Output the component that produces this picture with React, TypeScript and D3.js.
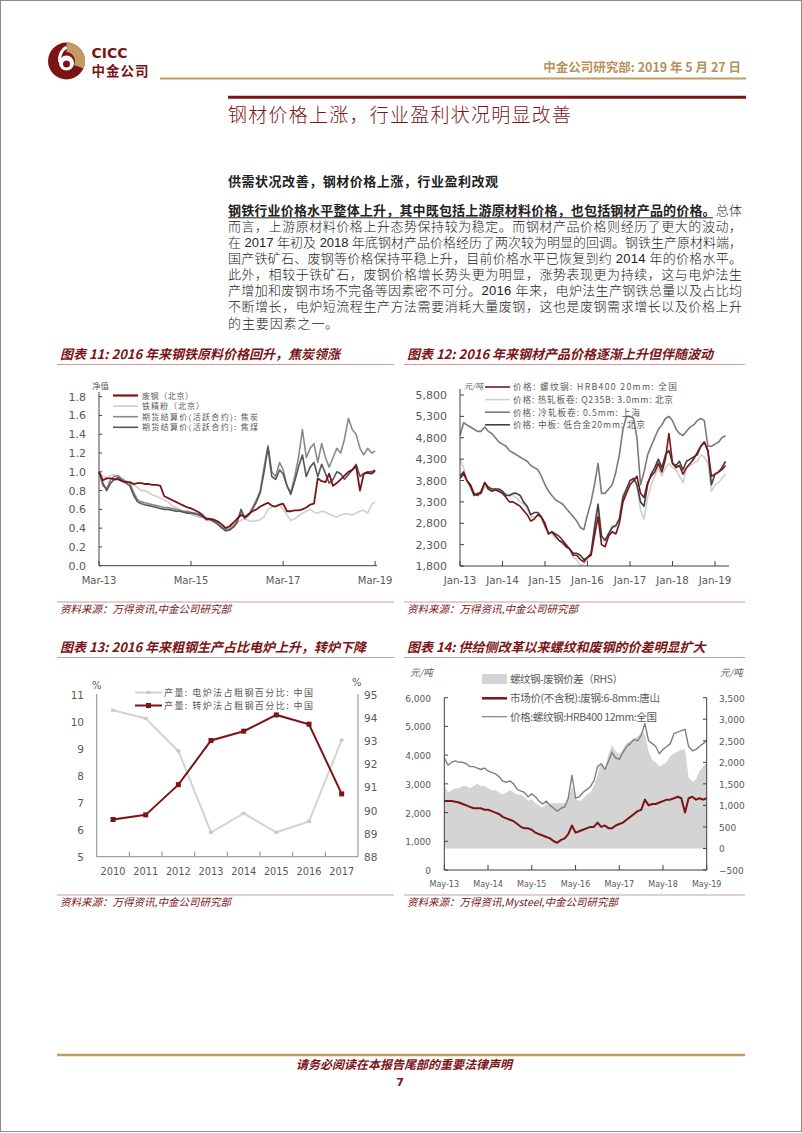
import React from 'react';
import * as d3 from 'd3';

const RED = '#7b1416';
const GOLD = '#b8905a';
const RULE = '#c4a0a0';
const LABEL = '#595959';
const NUM = '"DejaVu Sans", Verdana, sans-serif';
const CJK = '"Noto Sans CJK SC", "Noto Sans", sans-serif';
const BODY = '"Liberation Sans", "Noto Sans CJK SC", sans-serif';

// 图表 11: 2013-03 起的月度净值
const c11Scrap = [1.0, 0.91, 0.93, 0.93, 0.92, 0.92, 0.9, 0.89, 0.89, 0.87, 0.88, 0.88, 0.87, 0.87, 0.86, 0.86, 0.85, 0.74, 0.72, 0.7, 0.68, 0.66, 0.64, 0.62, 0.61, 0.59, 0.57, 0.54, 0.49, 0.5, 0.49, 0.47, 0.44, 0.4, 0.42, 0.46, 0.5, 0.54, 0.52, 0.55, 0.58, 0.6, 0.63, 0.65, 0.67, 0.64, 0.63, 0.65, 0.66, 0.58, 0.58, 0.59, 0.59, 0.6, 0.62, 0.65, 0.66, 0.93, 0.9, 0.89, 0.98, 0.85, 0.88, 0.92, 0.96, 1.0, 1.02, 1.06, 0.8, 0.98, 0.99, 0.98, 1.01];
const c11Ore = [1.0, 0.95, 0.94, 0.96, 0.97, 0.95, 0.93, 0.9, 0.88, 0.86, 0.83, 0.8, 0.8, 0.78, 0.75, 0.74, 0.72, 0.7, 0.68, 0.64, 0.62, 0.6, 0.58, 0.56, 0.55, 0.53, 0.52, 0.51, 0.5, 0.48, 0.46, 0.44, 0.42, 0.4, 0.41, 0.43, 0.46, 0.48, 0.5, 0.48, 0.47, 0.48, 0.49, 0.52, 0.6, 0.62, 0.63, 0.65, 0.6, 0.54, 0.48, 0.5, 0.53, 0.56, 0.58, 0.6, 0.57, 0.56, 0.58, 0.57, 0.55, 0.53, 0.52, 0.54, 0.55, 0.55, 0.54, 0.56, 0.58, 0.59, 0.56, 0.65, 0.68];
const c11Coke = [1.0, 0.85, 0.82, 0.92, 0.95, 0.96, 0.92, 0.9, 0.88, 0.78, 0.7, 0.68, 0.67, 0.66, 0.65, 0.64, 0.63, 0.62, 0.62, 0.61, 0.6, 0.59, 0.58, 0.58, 0.57, 0.56, 0.55, 0.53, 0.51, 0.5, 0.48, 0.45, 0.41, 0.38, 0.39, 0.42, 0.47, 0.58, 0.5, 0.54, 0.62, 0.7, 0.8, 1.05, 1.28, 1.0, 0.95, 1.1, 1.02, 0.85, 0.78, 0.95, 1.15, 1.45, 1.15, 1.25, 1.3, 1.1, 1.3, 1.15, 1.05, 1.15, 1.25, 1.2, 1.35, 1.57, 1.45, 1.4, 1.25, 1.18, 1.25, 1.2, 1.22];
const c11Coal = [1.0, 0.88, 0.8, 0.88, 0.92, 0.94, 0.9, 0.88, 0.85, 0.75, 0.68, 0.66, 0.65, 0.64, 0.63, 0.62, 0.61, 0.6, 0.6, 0.59, 0.58, 0.58, 0.57, 0.56, 0.56, 0.55, 0.54, 0.52, 0.5, 0.49, 0.47, 0.44, 0.4, 0.37, 0.38, 0.41, 0.46, 0.6, 0.51, 0.54, 0.6, 0.68, 0.78, 1.0, 1.26, 0.95, 0.92, 1.02, 0.98, 0.85, 0.76, 0.9, 1.05, 1.18, 0.95, 1.05, 1.1, 0.95, 1.08, 0.98, 0.88, 0.92, 1.0, 0.98, 0.92, 0.97, 1.02, 1.08, 0.95, 0.98, 1.0, 1.0, 1.02];
const c11Names = ['废钢（北京）', '铁精粉（北京）', '期货结算价(活跃合约): 焦炭', '期货结算价(活跃合约): 焦煤'];
const c11XTicks = ['Mar-13', 'Mar-15', 'Mar-17', 'Mar-19'];

// 图表 12: 2013-01 起的月度价格（元/吨）
const c12Rebar = [3900, 4000, 3800, 3700, 3500, 3450, 3550, 3750, 3600, 3550, 3580, 3550, 3500, 3400, 3300, 3300, 3250, 3200, 3100, 3000, 2850, 2900, 3000, 2950, 2800, 2550, 2600, 2500, 2400, 2350, 2250, 2200, 2050, 2050, 1950, 1900, 2000, 2050, 2500, 2950, 2300, 2250, 2500, 2600, 2550, 2800, 3300, 3500, 3700, 3800, 3900, 3500, 3400, 3750, 3900, 4000, 4200, 4000, 4300, 4900, 4200, 4100, 4150, 3950, 4100, 4200, 4300, 4450, 4600, 4700, 4500, 3900, 3950, 4000, 4050, 4150];
const c12Hot = [4300, 4100, 3800, 3700, 3500, 3450, 3500, 3650, 3600, 3550, 3600, 3550, 3500, 3500, 3450, 3450, 3400, 3300, 3250, 3150, 2950, 2950, 3000, 2900, 2700, 2600, 2550, 2450, 2400, 2300, 2250, 2200, 2000, 1950, 1800, 1850, 1950, 2100, 2600, 3100, 2400, 2400, 2600, 2750, 2700, 2900, 3500, 3600, 3800, 3850, 3700, 3100, 2900, 3400, 3700, 3900, 4100, 3900, 4100, 4200, 4100, 4050, 3900, 3750, 4100, 4150, 4200, 4250, 4400, 4350, 4200, 3550, 3700, 3750, 3850, 3950];
const c12Cold = [4850, 5150, 5100, 5050, 5000, 4950, 4950, 5050, 4950, 4900, 4800, 4700, 4650, 4600, 4500, 4450, 4400, 4350, 4300, 4250, 4150, 4100, 4050, 3900, 3700, 3550, 3450, 3350, 3300, 3250, 3150, 3050, 2950, 2850, 2700, 2650, 3000, 3300, 3700, 4200, 3500, 3500, 3600, 3700, 4000, 4400, 5000, 5300, 5300, 5250, 4800, 3700, 4000, 4400, 4600, 4800, 5000, 5100, 5250, 5300, 5200, 5000, 4900, 4850, 4950, 5050, 5100, 5200, 5250, 5200, 4600, 4600, 4650, 4700, 4800, 4850];
const c12Plate = [3850, 3950, 3800, 3650, 3450, 3500, 3500, 3750, 3650, 3600, 3600, 3600, 3550, 3450, 3450, 3500, 3500, 3450, 3300, 3200, 3000, 3050, 3050, 2950, 2750, 2550, 2600, 2550, 2500, 2400, 2300, 2200, 2100, 2100, 2050, 1950, 2000, 2100, 2700, 3250, 2500, 2400, 2550, 2700, 2750, 2900, 3400, 3600, 3800, 3850, 3700, 3300, 3200, 3700, 3950, 4100, 4300, 4100, 4400, 4500, 4200, 4150, 4250, 4050, 4250, 4300, 4350, 4400, 4600, 4700, 4500, 3700, 3950, 4000, 4100, 4250];
const c12Names = ['价格: 螺纹钢: HRB400 20mm: 全国', '价格: 热轧板卷: Q235B: 3.0mm: 北京', '价格: 冷轧板卷: 0.5mm: 上海', '价格: 中板: 低合金20mm: 北京'];
const c12XTicks = ['Jan-13', 'Jan-14', 'Jan-15', 'Jan-16', 'Jan-17', 'Jan-18', 'Jan-19'];

// 图表 13: 年度占比（%）
const c13Years = ['2010', '2011', '2012', '2013', '2014', '2015', '2016', '2017'];
const c13Eaf = [10.4, 10.1, 8.9, 5.9, 6.6, 5.9, 6.3, 9.3];
const c13Bof = [89.6, 89.8, 91.1, 93.0, 93.4, 94.1, 93.7, 90.7];
const c13Names = ['产量: 电炉法占粗钢百分比: 中国', '产量: 转炉法占粗钢百分比: 中国'];

// 图表 14: 2013-05 起的月度价格（元/吨）
const c14Rebar = [3900, 3650, 3750, 3800, 3750, 3750, 3700, 3600, 3600, 3550, 3500, 3550, 3450, 3400, 3350, 3250, 3100, 3050, 3100, 3000, 2800, 2750, 2700, 2550, 2650, 2550, 2400, 2300, 2400, 2250, 2150, 2050, 2150, 2200, 2500, 3300, 2500, 2550, 2700, 2800, 2900, 3100, 3600, 3700, 3500, 3800, 4100, 3900, 3850, 4100, 4300, 4400, 4550, 4500, 4700, 5100, 4500, 4400, 4300, 4050, 4200, 4300, 4400, 4750, 4800, 4850, 4900, 4300, 4150, 4200, 4300, 4400, 4500];
const c14Scrap = [2400, 2400, 2400, 2380, 2350, 2300, 2250, 2200, 2150, 2150, 2150, 2100, 2100, 2050, 2000, 1950, 1850, 1800, 1750, 1700, 1600, 1500, 1450, 1450, 1400, 1300, 1250, 1200, 1150, 1100, 1000, 950, 1050, 1100, 1250, 1550, 1300, 1350, 1400, 1450, 1500, 1500, 1650, 1500, 1550, 1450, 1450, 1550, 1600, 1650, 1750, 1850, 1950, 2050, 2100, 2450, 2250, 2300, 2300, 2350, 2400, 2450, 2450, 2500, 2550, 2500, 2000, 2500, 2550, 2450, 2500, 2450, 2500];
const c14Spread = [1500, 1300, 1350, 1400, 1400, 1450, 1450, 1400, 1450, 1500, 1450, 1450, 1400, 1350, 1350, 1300, 1250, 1300, 1350, 1300, 1250, 1250, 1200, 1100, 1150, 1050, 1000, 950, 1050, 1050, 1050, 1050, 1050, 1050, 1150, 1450, 1150, 1100, 1150, 1250, 1300, 1450, 1700, 2000, 1850, 2200, 2400, 2250, 2200, 2300, 2450, 2500, 2550, 2600, 2700, 2650, 2250, 2050, 2000, 1900, 1950, 2000, 2150, 2200, 2250, 2300, 2300, 1650, 1550, 1600, 1800, 1900, 2000];
const c14Names = ['螺纹钢-废钢价差（RHS）', '市场价(不含税):废钢:6-8mm:唐山', '价格:螺纹钢:HRB400 12mm:全国'];
const c14XTicks = ['May-13', 'May-14', 'May-15', 'May-16', 'May-17', 'May-18', 'May-19'];

const bodyLines = [
  '而言，上游原材料价格上升态势保持较为稳定。而钢材产品价格则经历了更大的波动，',
  '在 2017 年初及 2018 年底钢材产品价格经历了两次较为明显的回调。钢铁生产原材料端，',
  '国产铁矿石、废钢等价格保持平稳上升，目前价格水平已恢复到约 2014 年的价格水平。',
  '此外，相较于铁矿石，废钢价格增长势头更为明显，涨势表现更为持续，这与电炉法生',
  '产增加和废钢市场不完备等因素密不可分。2016 年来，电炉法生产钢铁总量以及占比均',
  '不断增长，电炉短流程生产方法需要消耗大量废钢，这也是废钢需求增长以及价格上升',
  '的主要因素之一。',
];

const monthSeq = (y: number, m: number, n: number) => d3.range(n).map((i) => new Date(y, m + i, 1));

function Frame({ x0, x1, top, bottom, title, source }: { x0: number; x1: number; top: number; bottom: number; title: string; source: string }) {
  return (
    <g>
      <text x={x0 + 3} y={top} fontSize={13} fill={RED} fontStyle="italic" fontWeight="bold">{title}</text>
      <line x1={x0} x2={x1} y1={top + 5.5} y2={top + 5.5} stroke={RULE} strokeWidth={1} />
      <line x1={x0} x2={x1} y1={bottom} y2={bottom} stroke={RULE} strokeWidth={1} />
      <text x={x0 + 3} y={bottom + 11} fontSize={10.5} fill={RED} fontStyle="italic">{source}</text>
    </g>
  );
}

function Chart11() {
  const x = d3.scaleTime().domain([new Date(2013, 2, 1), new Date(2019, 2, 16)]).range([99, 377]);
  const y = d3.scaleLinear().domain([0, 1.8]).range([565.7, 396.7]);
  const dates = monthSeq(2013, 2, c11Scrap.length);
  const line = d3.line<number>().x((_, i) => x(dates[i])).y((d) => y(d));
  const series = [
    { v: c11Ore, c: '#cfcfcf', w: 1.6 },
    { v: c11Coke, c: '#8a8a8a', w: 1.6 },
    { v: c11Coal, c: '#575757', w: 1.6 },
    { v: c11Scrap, c: RED, w: 1.8 },
  ];
  const legend = [
    { c: RED, w: 2.2, len: 51 },
    { c: '#cfcfcf', w: 1.6, len: 62 },
    { c: '#8a8a8a', w: 1.6, len: 116 },
    { c: '#575757', w: 1.6, len: 116 },
  ];
  const xTickDates = c11XTicks.map((_, i) => new Date(2013 + i * 2, 2, 1));
  return (
    <g>
      <Frame x0={57} x1={394} top={359} bottom={602} title="图表 11: 2016 年来钢铁原料价格回升，焦炭领涨" source="资料来源：万得资讯,中金公司研究部" />
      {series.map((s, i) => (
        <path key={i} d={line(s.v) ?? ''} fill="none" stroke={s.c} strokeWidth={s.w} strokeLinejoin="round" />
      ))}
      <line x1={99} x2={99} y1={392} y2={565.7} stroke="#404040" />
      <line x1={99} x2={377} y1={565.7} y2={565.7} stroke="#404040" />
      {d3.range(0, 1.81, 0.2).map((t) => (
        <g key={t}>
          <line x1={99} x2={102} y1={y(t)} y2={y(t)} stroke="#404040" />
          <text x={86} y={y(t) + 4} textAnchor="end" fontFamily={NUM} fontSize={11} fill={LABEL}>{d3.format('.1f')(t)}</text>
        </g>
      ))}
      {xTickDates.map((d, i) => (
        <g key={i}>
          <line x1={x(d)} x2={x(d)} y1={565.7} y2={561} stroke="#404040" />
          <text x={x(d)} y={584} textAnchor="middle" fontFamily={NUM} fontSize={10} fill={LABEL}>{c11XTicks[i]}</text>
        </g>
      ))}
      <text x={92} y={389} fontSize={8.5} fill={LABEL}>净值</text>
      {c11Names.map((n, i) => (
        <g key={n}>
          <line x1={113} x2={138} y1={395.5 + i * 10.6} y2={395.5 + i * 10.6} stroke={legend[i].c} strokeWidth={legend[i].w} />
          <text x={142} y={398.5 + i * 10.6} fontSize={8} fill={LABEL} textLength={legend[i].len}>{n}</text>
        </g>
      ))}
    </g>
  );
}

function Chart12() {
  const x = d3.scaleTime().domain([new Date(2013, 0, 1), new Date(2019, 4, 1)]).range([460, 729]);
  const y = d3.scaleLinear().domain([1800, 5800]).range([566, 395]);
  const dates = monthSeq(2013, 0, c12Rebar.length);
  const line = d3.line<number>().x((_, i) => x(dates[i])).y((d) => y(d));
  const cols = [RED, '#cfcfcf', '#7a7a7a', '#404040'];
  const lens = [164, 160, 127, 132];
  const series = [
    { v: c12Hot, c: cols[1] },
    { v: c12Cold, c: cols[2] },
    { v: c12Plate, c: cols[3] },
    { v: c12Rebar, c: cols[0] },
  ];
  const xTickDates = c12XTicks.map((_, i) => new Date(2013 + i, 0, 1));
  return (
    <g>
      <Frame x0={404} x1={745} top={359} bottom={602} title="图表 12: 2016 年来钢材产品价格逐渐上升但伴随波动" source="资料来源：万得资讯,中金公司研究部" />
      <defs>
        <clipPath id="c12clip"><rect x={460} y={380} width={280} height={186} /></clipPath>
      </defs>
      <g clipPath="url(#c12clip)">
        {series.map((s, i) => (
          <path key={i} d={line(s.v) ?? ''} fill="none" stroke={s.c} strokeWidth={1.6} strokeLinejoin="round" />
        ))}
      </g>
      <line x1={460} x2={460} y1={389} y2={566} stroke="#404040" />
      <line x1={460} x2={729} y1={566} y2={566} stroke="#404040" />
      {d3.range(1800, 5801, 500).map((t) => (
        <g key={t}>
          <line x1={460} x2={464} y1={y(t)} y2={y(t)} stroke="#404040" />
          <text x={447} y={y(t) + 4} textAnchor="end" fontFamily={NUM} fontSize={11} fill={LABEL}>{d3.format(',')(t)}</text>
        </g>
      ))}
      {xTickDates.map((d, i) => (
        <g key={i}>
          <line x1={x(d)} x2={x(d)} y1={566} y2={561} stroke="#404040" />
          <text x={x(d)} y={584} textAnchor="middle" fontFamily={NUM} fontSize={10.3} fill={LABEL}>{c12XTicks[i]}</text>
        </g>
      ))}
      <text x={464} y={388.5} fontSize={8} fill={LABEL} fontStyle="italic">元/吨</text>
      {c12Names.map((n, i) => (
        <g key={n}>
          <line x1={485} x2={510} y1={387 + i * 12.6} y2={387 + i * 12.6} stroke={cols[i]} strokeWidth={1.6} />
          <text x={513} y={390.3 + i * 12.6} fontSize={8.7} fill={LABEL} textLength={lens[i]}>{n}</text>
        </g>
      ))}
    </g>
  );
}

function Chart13() {
  const x = d3.scaleBand().domain(c13Years).range([96.7, 358]);
  const yL = d3.scaleLinear().domain([5, 11]).range([856.7, 694]);
  const yR = d3.scaleLinear().domain([88, 95]).range([856.7, 694]);
  const cx = (i: number) => (x(c13Years[i]) ?? 0) + x.bandwidth() / 2;
  const eafLine = d3.line<number>().x((_, i) => cx(i)).y((d) => yL(d));
  const bofLine = d3.line<number>().x((_, i) => cx(i)).y((d) => yR(d));
  return (
    <g>
      <Frame x0={57} x1={394} top={652} bottom={895} title="图表 13: 2016 年来粗钢生产占比电炉上升，转炉下降" source="资料来源：万得资讯,中金公司研究部" />
      <line x1={96.7} x2={96.7} y1={694} y2={856.7} stroke="#8c8c8c" />
      <line x1={358} x2={358} y1={694} y2={856.7} stroke="#8c8c8c" />
      <line x1={96.7} x2={358} y1={856.7} y2={856.7} stroke="#8c8c8c" />
      {c13Years.slice(1).map((yr) => (
        <line key={yr} x1={x(yr)} x2={x(yr)} y1={856.7} y2={851.5} stroke="#8c8c8c" />
      ))}
      {d3.range(5, 12).map((t) => (
        <text key={t} x={84} y={yL(t) + 4.5} textAnchor="end" fontFamily={NUM} fontSize={10.5} fill={LABEL}>{t}</text>
      ))}
      {d3.range(88, 96).map((t) => (
        <text key={t} x={364} y={yR(t) + 4.5} fontFamily={NUM} fontSize={10.5} fill={LABEL}>{t}</text>
      ))}
      {c13Years.map((yr, i) => (
        <text key={yr} x={cx(i)} y={874.5} textAnchor="middle" fontFamily={NUM} fontSize={9.8} fill={LABEL}>{yr}</text>
      ))}
      <text x={92} y={689} fontFamily={NUM} fontSize={10} fill={LABEL}>%</text>
      <text x={352} y={686} fontFamily={NUM} fontSize={10} fill={LABEL}>%</text>
      <path d={eafLine(c13Eaf) ?? ''} fill="none" stroke="#d3d3d3" strokeWidth={2} />
      {c13Eaf.map((v, i) => (
        <rect key={i} x={cx(i) - 2} y={yL(v) - 1.5} width={4} height={3} fill="#c8c8c8" />
      ))}
      <path d={bofLine(c13Bof) ?? ''} fill="none" stroke={RED} strokeWidth={2} />
      {c13Bof.map((v, i) => (
        <rect key={i} x={cx(i) - 2.5} y={yR(v) - 2.5} width={5} height={5} fill={RED} />
      ))}
      <line x1={135} x2={162} y1={692.5} y2={692.5} stroke="#d3d3d3" strokeWidth={2} />
      <rect x={146.5} y={691} width={4} height={3} fill="#c8c8c8" />
      <text x={164} y={695.8} fontSize={9} fill={LABEL} textLength={149}>{c13Names[0]}</text>
      <line x1={135} x2={162} y1={705.5} y2={705.5} stroke={RED} strokeWidth={2} />
      <rect x={146} y={703} width={5} height={5} fill={RED} />
      <text x={164} y={708.8} fontSize={9} fill={LABEL} textLength={149}>{c13Names[1]}</text>
    </g>
  );
}

function Chart14() {
  const x = d3.scaleTime().domain([new Date(2013, 4, 1), new Date(2019, 4, 1)]).range([444.3, 706.7]);
  const yL = d3.scaleLinear().domain([0, 6000]).range([870, 697.7]);
  const yR = d3.scaleLinear().domain([-500, 3500]).range([870, 697.7]);
  const dates = monthSeq(2013, 4, c14Rebar.length);
  const line = d3.line<number>().x((_, i) => x(dates[i])).y((d) => yL(d));
  const area = d3.area<number>().x((_, i) => x(dates[i])).y0(yR(0)).y1((d) => yR(d));
  const xTickDates = c14XTicks.map((_, i) => new Date(2013 + i, 4, 1));
  const lens = [113, 150, 147];
  return (
    <g>
      <Frame x0={404} x1={745} top={652} bottom={895} title="图表 14:  供给侧改革以来螺纹和废钢的价差明显扩大" source="资料来源：万得资讯,Mysteel,中金公司研究部" />
      <path d={area(c14Spread) ?? ''} fill="#d4d4d4" />
      <path d={line(c14Rebar) ?? ''} fill="none" stroke="#7f7f7f" strokeWidth={1.4} strokeLinejoin="round" />
      <path d={line(c14Scrap) ?? ''} fill="none" stroke={RED} strokeWidth={2} strokeLinejoin="round" />
      <line x1={444.3} x2={444.3} y1={697.7} y2={870} stroke="#404040" />
      <line x1={706.7} x2={706.7} y1={697.7} y2={870} stroke="#404040" />
      <line x1={444.3} x2={706.7} y1={870} y2={870} stroke="#404040" />
      {d3.range(0, 6001, 1000).map((t) => (
        <g key={t}>
          <line x1={444.3} x2={448} y1={yL(t)} y2={yL(t)} stroke="#404040" />
          <text x={431} y={yL(t) + 4} textAnchor="end" fontFamily={NUM} fontSize={9} fill={LABEL}>{d3.format(',')(t)}</text>
        </g>
      ))}
      {d3.range(-500, 3501, 500).map((t) => (
        <g key={t}>
          <line x1={703} x2={706.7} y1={yR(t)} y2={yR(t)} stroke="#404040" />
          <text x={719} y={yR(t) + 4} fontFamily={NUM} fontSize={9} fill={LABEL}>{d3.format(',')(t)}</text>
        </g>
      ))}
      {xTickDates.map((d, i) => (
        <g key={i}>
          <line x1={x(d)} x2={x(d)} y1={870} y2={865} stroke="#404040" />
          <text x={x(d)} y={886.5} textAnchor="middle" fontFamily={NUM} fontSize={8} fill={LABEL}>{c14XTicks[i]}</text>
        </g>
      ))}
      <text x={410} y={676} fontSize={9.5} fill={LABEL} fontStyle="italic">元/吨</text>
      <text x={720} y={676} fontSize={9.5} fill={LABEL} fontStyle="italic">元/吨</text>
      <rect x={482} y={674} width={25} height={10} fill="#d4d4d4" />
      <text x={510} y={683} fontSize={10.5} fill={LABEL} textLength={lens[0]}>{c14Names[0]}</text>
      <line x1={482} x2={507} y1={698.3} y2={698.3} stroke={RED} strokeWidth={2.5} />
      <text x={510} y={702} fontSize={10.5} fill={LABEL} textLength={lens[1]}>{c14Names[1]}</text>
      <line x1={482} x2={507} y1={716.7} y2={716.7} stroke="#7f7f7f" strokeWidth={1.2} />
      <text x={510} y={720.5} fontSize={10.5} fill={LABEL} textLength={lens[2]}>{c14Names[2]}</text>
    </g>
  );
}

function Header() {
  return (
    <g>
      <circle cx={66.5} cy={61} r={18.5} fill={RED} />
      <path d="M66.5,42.5 A18.5,18.5 0 0 1 83.5,68.5 L74,65 A9,9 0 0 0 66.5,52 Z" fill="#c49a63" />
      <circle cx={66.5} cy={63} r={7.5} fill="#fff" />
      <circle cx={66.5} cy={64} r={3.5} fill={RED} />
      <path d="M59.5,62 Q59,51 66.5,47" fill="none" stroke="#fff" strokeWidth={3} />
      <text x={91.5} y={57.5} fontFamily='"DejaVu Sans", sans-serif' fontWeight="bold" fontSize={14} fill={RED}>CICC</text>
      <text x={91.5} y={75.5} fontWeight="bold" fontSize={13.5} fill={RED} textLength={57}>中金公司</text>
      <text x={741} y={72} textAnchor="end" fontWeight="bold" fontSize={12.5} fill={GOLD}>中金公司研究部: 2019 年 5 月 27 日</text>
      <line x1={160} x2={746} y1={78.5} y2={78.5} stroke="#c49a63" strokeWidth={2} />
      <line x1={228} x2={746} y1={97.3} y2={97.3} stroke={RED} strokeWidth={3} />
      <text x={228} y={122} fontSize={19} fontWeight={300} fill={RED} textLength={343}>钢材价格上涨，行业盈利状况明显改善</text>
    </g>
  );
}

function Body() {
  const lh = 16.15;
  return (
    <g fill="#222" fontFamily={BODY}>
      <text x={228} y={185.5} fontWeight="bold" fontSize={13} textLength={270}>供需状况改善，钢材价格上涨，行业盈利改观</text>
      <text x={228} y={214.5} fontSize={13} textLength={514}>
        <tspan fontWeight="bold">钢铁行业价格水平整体上升，其中既包括上游原材料价格，也包括钢材产品的价格。</tspan>
        <tspan fontWeight={300}>总体</tspan>
      </text>
      <line x1={228} x2={713} y1={217.8} y2={217.8} stroke="#222" strokeWidth={1} />
      {bodyLines.map((l, i) => (
        <text key={i} x={228} y={214.5 + (i + 1) * lh} fontSize={13} fontWeight={300}
          textLength={i < bodyLines.length - 1 ? 514 : undefined}
          letterSpacing={i < bodyLines.length - 1 ? undefined : 0.9}>{l}</text>
      ))}
    </g>
  );
}

function Footer() {
  return (
    <g>
      <line x1={57} x2={745} y1={1055} y2={1055} stroke="#c49a63" strokeWidth={2.5} />
      <text x={404} y={1069} textAnchor="middle" fontSize={12} fill={RED} fontStyle="italic" fontWeight="bold">请务必阅读在本报告尾部的重要法律声明</text>
      <text x={400} y={1086} textAnchor="middle" fontFamily={NUM} fontWeight="bold" fontSize={11} fill={RED}>7</text>
    </g>
  );
}

export default function App() {
  return (
    <svg width={802} height={1133} style={{ position: 'absolute', left: 0, top: 0, background: '#fff' }} fontFamily={CJK}>
      <rect x={0.5} y={0.5} width={801} height={1131} fill="#fff" stroke="#8c8c8c" />
      <Header />
      <Body />
      <Chart11 />
      <Chart12 />
      <Chart13 />
      <Chart14 />
      <Footer />
    </svg>
  );
}
